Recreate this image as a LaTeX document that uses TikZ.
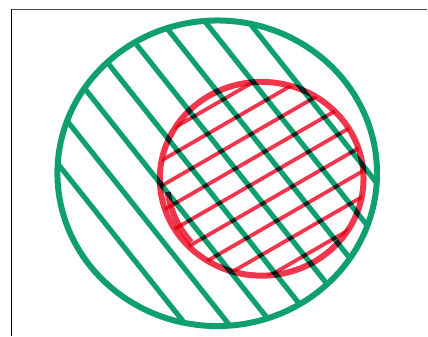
\documentclass[tikz,border=0pt]{standalone}
\usetikzlibrary{calc}
\definecolor{vdGreen}{HTML}{10A070}
\definecolor{vdRed}{HTML}{F0364C}
\definecolor{vdFrame}{HTML}{4A4A4A}
\tikzset{
  outerring/.style={draw=vdGreen, line width=6pt},
  innerring/.style={draw=vdRed, line width=6pt},
  ghatch/.style={draw=vdGreen, line width=5.2pt},
  rhatch/.style={draw=vdRed, line width=3.8pt},
  framerule/.style={line width=1.1pt},
}
\begin{document}
\begin{tikzpicture}[x=1pt, y=-1pt]
  \fill[white] (0,0) rectangle (428,336);
  \coordinate (gc) at (217.5,173.5);
  \coordinate (rc) at (262,179);
  % frame
  \draw[framerule, draw=vdFrame] (11.7,9.3) -- (428,9.3);
  \draw[framerule, draw=black] (11.7,9.3) -- (11.7,336);
  % green set, hatched
  \begin{scope}
    \clip (gc) ellipse [x radius=160pt, y radius=153pt];
    \foreach \k in {-3.5,-2.5,...,3.5}
      \draw[ghatch, shift={(gc)}, rotate=-51.5] (-200,\k*34) -- (200,\k*34);
  \end{scope}
  \draw[outerring] (gc) ellipse [x radius=160pt, y radius=153pt];
  % red set on top, ink overlaps go dark
  \begin{scope}[blend mode=multiply]
    \begin{scope}
      \clip (rc) ellipse [x radius=102pt, y radius=97pt];
      \foreach \k in {-4,...,4}
        \draw[rhatch, shift={(rc)}, rotate=30] (-150,\k*22) -- (150,\k*22);
    \end{scope}
    \draw[innerring] (rc) ellipse [x radius=102pt, y radius=97pt];
    \draw[innerring] (rc) ++(188:95pt) arc[start angle=188, end angle=222, radius=95pt];
  \end{scope}
\end{tikzpicture}
\end{document}
